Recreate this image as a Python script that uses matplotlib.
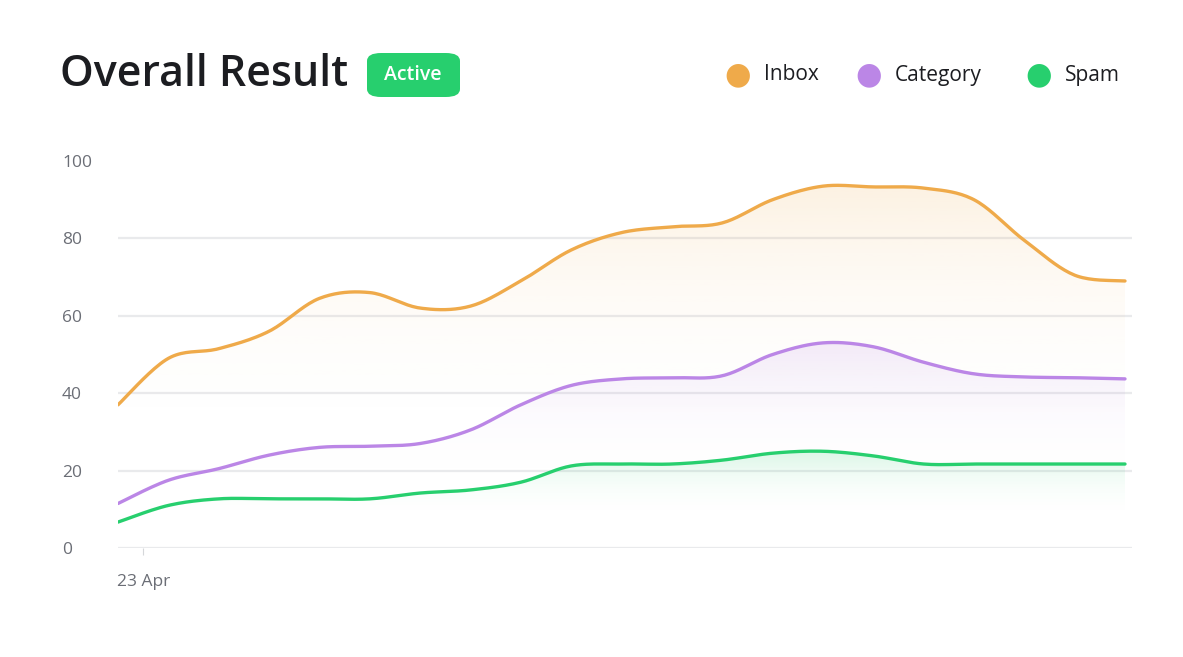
import numpy as np
import matplotlib.pyplot as plt
from matplotlib.patches import FancyBboxPatch, Polygon

plt.rcParams['font.family'] = ['Open Sans', 'DejaVu Sans']

# Data (21 samples across the period)
x = np.arange(21)
inbox = [37, 49, 51.5, 56, 64.5, 66, 62, 62.5, 69, 77, 81.5, 83, 84, 90, 93.5, 93.3, 93, 90, 79.5, 70.5, 69]
category = [11.5, 17.5, 20.5, 24, 26, 26.3, 27, 30.5, 37, 42, 43.7, 44, 44.5, 50, 53, 52, 48, 45, 44.2, 44, 43.7]
spam = [6.7, 11, 12.7, 12.7, 12.7, 12.7, 14.2, 15, 17, 21.2, 21.7, 21.7, 22.7, 24.5, 25, 23.8, 21.7, 21.7, 21.7, 21.7, 21.7]
series = [("Inbox", inbox, "#EFAA4A"), ("Category", category, "#BB86E6"), ("Spam", spam, "#27CF6E")]
yticks = [0, 20, 40, 60, 80, 100]


def smooth(xs, ys, n=20):
    # Catmull-Rom for display smoothing
    xs, ys = np.asarray(xs, float), np.asarray(ys, float)
    px = np.concatenate([[xs[0]], xs, [xs[-1]]])
    py = np.concatenate([[ys[0]], ys, [ys[-1]]])
    ox, oy = [], []
    t = np.linspace(0, 1, n, endpoint=False)
    for i in range(1, len(px) - 2):
        for p, o in ((px, ox), (py, oy)):
            p0, p1, p2, p3 = p[i - 1:i + 3]
            o.extend(0.5 * (2 * p1 + (-p0 + p2) * t + (2 * p0 - 5 * p1 + 4 * p2 - p3) * t**2
                            + (-p0 + 3 * p1 - 3 * p2 + p3) * t**3))
    ox.append(xs[-1]); oy.append(ys[-1])
    return np.array(ox), np.array(oy)


fig = plt.figure(figsize=(11.83, 6.57), dpi=100)
fig.patch.set_facecolor("white")
ax = fig.add_axes([118 / 1183, 109 / 657, 1014 / 1183, 387 / 657])

for name, vals, color in series:
    sx, sy = smooth(x, vals)
    grad = np.linspace(0, 1, 256).reshape(-1, 1)
    rgba = np.zeros((256, 1, 4))
    rgba[..., :3] = plt.matplotlib.colors.to_rgb(color)
    rgba[..., 3] = grad ** 2.2 * 0.16
    im = ax.imshow(rgba, extent=[0, 20, max(vals) * 0.25, max(vals)], origin="lower",
                   aspect="auto", zorder=1)
    poly = Polygon(np.column_stack([np.r_[sx, sx[-1], sx[0]], np.r_[sy, 0, 0]]), closed=True,
                   transform=ax.transData, facecolor="none", edgecolor="none")
    ax.add_patch(poly)
    im.set_clip_path(poly)
    ax.plot(sx, sy, color=color, lw=2.4, solid_capstyle="round", zorder=3)
ax.set_ylim(0, 100)
ax.set_xlim(0, 20 * 1014 / 1007)

ax.set_yticks(yticks)
for v in yticks[:-1]:
    ax.axhline(v, color="#E9EAEC", lw=1.6, zorder=0)
for s in ax.spines.values():
    s.set_visible(False)
ax.tick_params(axis="y", length=0, pad=56, labelsize=12.5, labelcolor="#6B6E76")
for lab in ax.get_yticklabels():
    lab.set_horizontalalignment("left")
    lab.set_x(-56 / 1014)
ax.tick_params(axis="y", pad=0)
ax.set_xticks([0.5])
ax.set_xticklabels(["23 Apr"])
ax.tick_params(axis="x", length=5, color="#D5D7DA", pad=14, labelsize=12.5, labelcolor="#6B6E76")

fig.text(60 / 1183, 1 - 75 / 657, "Overall Result", fontsize=31, fontweight="semibold",
         color="#1C1D21", va="center", ha="left")
badge = FancyBboxPatch((367 / 1183, 1 - 97 / 657), 93 / 1183, 44 / 657,
                       boxstyle="round,pad=0,rounding_size=0.012", transform=fig.transFigure,
                       facecolor="#27CF6E", edgecolor="none")
fig.add_artist(badge)
fig.text(413 / 1183, 1 - 75 / 657, "Active", fontsize=14, fontweight="semibold", color="white",
         va="center", ha="center")

for (name, _, color), cx in zip(series, [738, 869, 1039]):
    fig.text(cx / 1183, 1 - 75 / 657, "\u25CF", fontsize=22, color=color, va="center", ha="center",
             family="DejaVu Sans")
    fig.text((cx + 26) / 1183, 1 - 75 / 657, name, fontsize=15, color="#1C1D21", va="center", ha="left")

fig.savefig("out.png", dpi=100)
